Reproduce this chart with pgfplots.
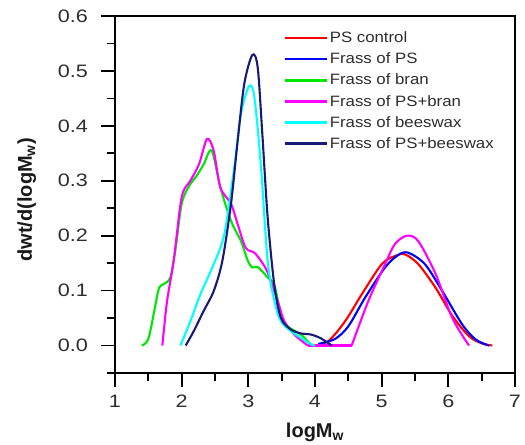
\documentclass[border=0pt]{standalone}
\usepackage{pgfplots}
\pgfplotsset{compat=1.18}
\usepackage{fontspec}
\setmainfont{Liberation Sans}
\newfontfamily\stretchfont{Liberation Sans}[FakeStretch=1.2]
\newfontfamily\legfont{Liberation Sans}[FakeStretch=1.12]
\definecolor{cred}{RGB}{255,0,0}
\definecolor{cblue}{RGB}{0,0,255}
\definecolor{cgreen}{RGB}{0,230,0}
\definecolor{cmag}{RGB}{255,0,255}
\definecolor{ccyan}{RGB}{0,255,255}
\definecolor{cnavy}{RGB}{25,25,120}
\definecolor{txt}{RGB}{45,45,45}
\begin{document}
\begin{tikzpicture}
\begin{axis}[
  scale only axis, width=400pt, height=357pt,
  xmin=1, xmax=7, ymin=-0.05, ymax=0.6,
  xtick={1,2,3,4,5,6,7}, ytick={0,0.1,0.2,0.3,0.4,0.5,0.6},
  minor xtick={1.5,2.5,3.5,4.5,5.5,6.5},
  minor ytick={-0.05,0.05,0.15,0.25,0.35,0.45,0.55},
  tick align=outside, xtick pos=bottom, ytick pos=left,
  major tick length=14pt, minor tick length=7.5pt,
  tick style={line width=1.7pt, black},
  axis line style={line width=2pt, black},
  /pgf/number format/assume math mode=true,
  ticklabel style={font=\stretchfont\fontsize{18}{21}\selectfont, text=txt, inner sep=0pt},
  yticklabel style={xshift=-13pt, /pgf/number format/.cd, fixed, fixed zerofill, precision=1},
  xticklabel style={yshift=-8pt},
  xlabel={\textbf{logM\textsubscript{w}}}, ylabel={\textbf{dwt/d(logM\textsubscript{w})}},
  label style={font=\fontsize{20}{23}\selectfont, text=black!90, inner sep=0pt},
  xlabel style={at={(axis description cs:0.5,-0.1793)}, anchor=base},
  ylabel style={at={(axis description cs:-0.2075,0.485)}, anchor=base},
  legend style={at={(axis description cs:0.42,0.962)}, anchor=north west, draw=none, fill=none,
    inner sep=0pt, row sep=4.8pt, font=\legfont\fontsize{15}{18}\selectfont, text=txt},
  legend cell align=left,
  legend image code/.code={\draw[#1, line width=2.6pt] (0pt,0pt) -- (42pt,0pt);},
  every axis plot/.append style={line width=2.1pt},
  clip=false,
]
\path (rel axis cs:0,0) ++(-115pt,-72pt);
\path (rel axis cs:1,1) ++(10pt,16pt);
\addplot[cred, smooth, tension=0.5] coordinates {(3.99,0) (4.2,0.008) (4.45,0.044) (4.70,0.093) (5.0,0.148) (5.2,0.163) (5.35,0.166) (5.55,0.148) (5.81,0.105) (6.06,0.054) (6.31,0.017) (6.5,0.004) (6.66,0)};
\addlegendentry{PS control}
\addplot[cblue, smooth, tension=0.5] coordinates {(4.05,0.003) (4.30,0.012) (4.50,0.035) (4.75,0.087) (5.05,0.142) (5.25,0.165) (5.40,0.169) (5.65,0.148) (5.91,0.099) (6.21,0.038) (6.4,0.012) (6.56,0.002) (6.61,0)};
\addlegendentry{Frass of PS}
\addplot[cgreen, smooth, tension=0.5] coordinates {(1.40,0) (1.50,0.012) (1.60,0.07) (1.66,0.105) (1.73,0.112) (1.83,0.124) (1.91,0.178) (2.0,0.258) (2.11,0.29) (2.23,0.31) (2.33,0.33) (2.45,0.355) (2.58,0.288) (2.74,0.227) (2.89,0.19) (2.99,0.155) (3.06,0.142) (3.14,0.143) (3.29,0.124) (3.39,0.11) (3.49,0.057) (3.59,0.035) (3.79,0.02) (3.94,0.002) (4.04,0)};
\addlegendentry{Frass of bran}
\addplot[cmag, smooth, tension=0.5] coordinates {(1.71,0) (1.78,0.08) (1.88,0.154) (2.0,0.27) (2.13,0.30) (2.26,0.33) (2.38,0.376) (2.48,0.355) (2.58,0.288) (2.74,0.258) (2.84,0.221) (2.96,0.178) (3.09,0.169) (3.19,0.154) (3.29,0.133) (3.44,0.081) (3.54,0.044) (3.69,0.02) (3.89,0)};
\addlegendentry{Frass of PS+bran}
\addplot[cmag, forget plot] coordinates {(3.89,0) (4.55,0)};
\addplot[cmag, smooth, tension=0.5, forget plot] coordinates {(4.55,0) (4.80,0.081) (5.05,0.148) (5.2,0.185) (5.38,0.2) (5.55,0.19) (5.81,0.13) (6.06,0.05) (6.31,0)};
\addplot[ccyan, smooth, tension=0.5] coordinates {(1.98,0) (2.13,0.044) (2.28,0.093) (2.48,0.148) (2.64,0.203) (2.79,0.325) (2.89,0.422) (3.01,0.472) (3.09,0.453) (3.19,0.325) (3.29,0.154) (3.39,0.081) (3.49,0.044) (3.64,0.026) (3.79,0.014) (3.94,0.002) (4.0,0)};
\addlegendentry{Frass of beeswax}
\addplot[cnavy, smooth, tension=0.5] coordinates {(2.06,0) (2.18,0.026) (2.33,0.063) (2.48,0.099) (2.61,0.154) (2.74,0.258) (2.84,0.373) (2.94,0.477) (3.06,0.529) (3.14,0.507) (3.21,0.385) (3.29,0.233) (3.39,0.11) (3.49,0.05) (3.64,0.029) (3.79,0.022) (3.94,0.02) (4.09,0.013) (4.25,0)};
\addlegendentry{Frass of PS+beeswax}
\end{axis}
\end{tikzpicture}
\end{document}
